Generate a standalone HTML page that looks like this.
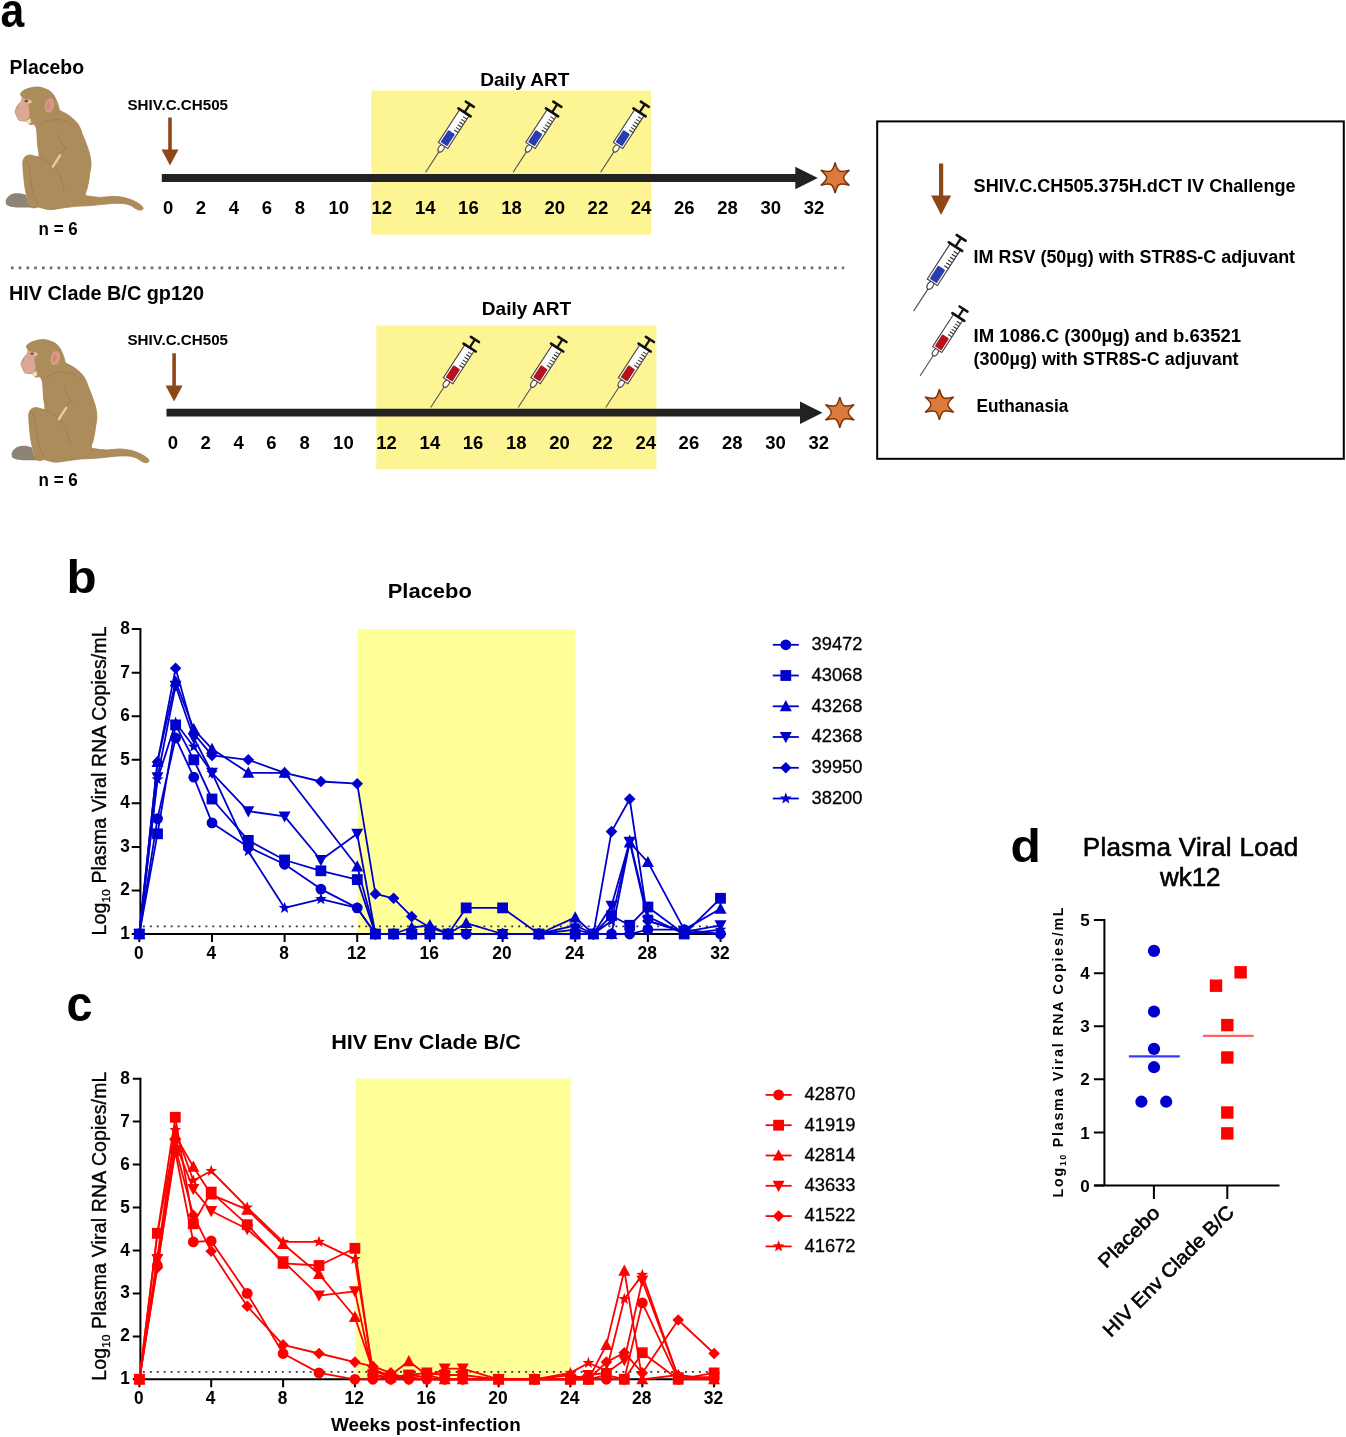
<!DOCTYPE html>
<html lang="en">
<head>
<meta charset="utf-8">
<title>Study design and plasma viral load</title>
<style>
html,body{margin:0;padding:0;background:#fff;}
body{width:1346px;height:1437px;overflow:hidden;}
svg{display:block;font-family:'Liberation Sans', sans-serif;}
</style>
</head>
<body>
<svg width="1346" height="1437" viewBox="0 0 1346 1437">
<rect width="1346" height="1437" fill="#fff"/>
<text transform="translate(0.6 26.8) scale(0.87 1)" font-size="49" font-weight="700">a</text>
<text x="9.6" y="74.0" font-size="20" font-weight="700" fill="#000" textLength="74.5" lengthAdjust="spacingAndGlyphs">Placebo</text>
<text x="9.0" y="300.2" font-size="20" font-weight="700" fill="#000" textLength="195.0" lengthAdjust="spacingAndGlyphs">HIV Clade B/C gp120</text>
<line x1="10.9" y1="267.9" x2="844.2" y2="267.9" stroke="#707070" stroke-width="2.7" stroke-dasharray="2.7 5.065"/>
<rect x="371.3" y="90.6" width="279.7" height="144.1" fill="#fdf493"/>
<text x="480.2" y="85.9" font-size="19" font-weight="700" fill="#000" textLength="89.3" lengthAdjust="spacingAndGlyphs">Daily ART</text>
<g transform="translate(0.0 0.0)">
<path d="M5.6 201.3C6 198 10 194 14.5 193.3C19 192.8 23 193.5 26 194.8L28 203.5L36.8 207.6L18.9 207.6C13 207.6 8 206.5 6.2 204.6z" fill="#8f8276"/>
<path d="M20.4 94.4C21 92.5 21.6 91.8 22.3 91.4C24.5 89.8 27 88.8 29.7 88.1C32 87.4 34.5 87 37.1 87C39.8 87 42.3 87.6 44.6 88.5C47.2 89.4 49.5 90.6 51.3 92.2C53.2 94 54.7 96.3 55.7 98.9C56.7 100.8 57.5 102.8 58 104.8C58.5 106.6 59 108.3 59.4 110C60.5 110.9 61.8 111.6 63.2 112.2C65.8 113.4 68.3 114.9 70.6 116.7C73.5 118.9 76 121.3 78 124.1C80 127.2 81.4 130.7 82.5 134.5C84.2 138.2 85.6 141.9 86.9 145.7C88.2 149 89.2 152.2 89.9 155.3C90.6 158.3 90.9 161.2 91 164C91 167.3 90.5 170.4 89.7 173.4C89.4 177.2 88.8 180.9 88 184.6C87.4 187.8 86.5 190.8 85.3 193.5L85.8 195.7C90.7 196.6 95.5 197.2 100.3 197.4C104.8 197.2 109.3 196.6 113.7 196.3C117.8 196.5 121.9 197 125.9 198C129.5 198.9 132.9 200.2 136 201.9C138.4 203.1 140.4 204.6 142.1 206.3C142.8 207 143.1 207.8 143.2 208.5C142.6 209.6 141.6 210.2 140.4 210.2C139 210.1 137.7 209.7 136.5 209.1C134.8 208.2 133.2 207.1 131.5 205.8C128.7 204.5 125.7 203.8 122.6 203.5C118.9 203.2 115.1 203.2 111.4 203.5L100.3 204.6C95.8 205.2 91.4 205.6 86.9 205.8L75.8 206.3C71.3 206.8 66.9 207.4 62.4 208C58.3 208.8 54.3 209.4 50.2 209.7C47.9 209.6 45.7 209.2 43.5 208.5L37.9 206.9C36.4 207.5 34.9 207.9 33.4 208C31.8 207.6 30.3 206.9 29 205.8C27.9 202.5 27.2 199.1 26.7 195.7C25.8 192 25 188.3 24.5 184.6L23.4 173.4C23 169.7 22.8 166 22.8 162.3C23 160 23.8 158.1 25.1 156.7C26.6 155.6 28.3 155 30.1 155C32.4 155.3 34.6 155.9 36.8 156.7L39.2 157.2C39 153.8 38.5 150.5 37.9 147.2C37.5 143.5 37.2 139.7 37.1 136C37 133.5 36.8 131 36.4 128.6C35.8 126.9 35.1 125.4 34.2 124.1L29.7 124.5L26 121.1L19.3 120.4C18.3 119.3 17.6 118.1 17.1 116.7C16.2 115 15.6 113.3 15.2 111.5C15.6 109.6 16.2 107.9 17.1 106.3C18.4 104.4 19.9 102.7 21.5 101.1C21.9 99.9 22.2 98.6 22.3 97.4z" fill="#ac8c5a" stroke="#a58350" stroke-width="0.8" stroke-linejoin="round"/>
<path d="M22.3 97.6L24.5 98.8L29.7 100C31.2 100.6 32 101.4 32 101.9C30.2 102.9 28.9 104.2 28.2 105.6C28.6 108.3 29.2 111 29.7 113.7C29.6 115.2 29.4 116.4 29 117.4C28.1 119 27 120.2 26 121.1L19.3 120.4C18.3 119.3 17.6 118.1 17.1 116.7C16.2 115 15.6 113.3 15.2 111.5C15.6 109.6 16.2 107.9 17.1 106.3C18.4 104.4 19.9 102.7 21.5 101.1z" fill="#dba796"/>
<path d="M27.6 99.4C29.4 99.6 31.2 100.6 32.2 102C31 102.9 29.6 103.1 28.4 102.6z" fill="#e6cdb4" opacity="0.8"/>
<ellipse cx="26.3" cy="101" rx="1.9" ry="1.2" fill="#7a4a3a"/>
<ellipse cx="17.6" cy="107.6" rx="1.1" ry="0.8" fill="#c98a7c"/>
<path d="M26 120.9L30.5 118.2L31.3 122.6L28.3 124.5z" fill="#ebe0b8"/>
<ellipse cx="49.4" cy="105.5" rx="4.7" ry="7.3" transform="rotate(12 49.4 105.5)" fill="#d99a88"/>
<ellipse cx="48.8" cy="105.8" rx="2" ry="4" transform="rotate(12 48.8 105.8)" fill="#cf8a78"/>
<path d="M40 126C43 122 50 119.5 57 119.5C63 119.5 68 121.5 72 125M58.5 134C60 140 62 145 66 148.5M66 148.5C63 150 60.5 152 59 155M36.8 156.7C43 158 49 161.5 53 166.5C57 170 60.5 176 62.5 183C63.5 186 64 188.5 64 191M26 160C29 165 30.5 172 31 180C31.5 190 34 198 38 204" fill="none" stroke="#9a7a48" stroke-width="1" stroke-linecap="round" opacity="0.75"/>
<path d="M60.2 155.2L52.9 166.7" stroke="#ddd0a5" stroke-width="2.4" stroke-linecap="round"/>
</g>
<text x="38.6" y="234.5" font-size="18" font-weight="700" fill="#000" textLength="39.2" lengthAdjust="spacingAndGlyphs">n = 6</text>
<text x="127.5" y="110.4" font-size="15" font-weight="700" fill="#000" textLength="100.5" lengthAdjust="spacingAndGlyphs">SHIV.C.CH505</text>
<path d="M168.2 117.5h3.6V149.5h6.7L170.0 165.5L161.5 149.5h6.7z" fill="#8e4716"/>
<path d="M161.8 174.1H795.3V166.8L817.8 178.0L795.3 189.2V181.9H161.8z" fill="#222"/>
<path d="M835.1 162.4Q837.0 169.8 839.4 170.9Q841.5 172.2 849.4 170.1Q843.4 175.3 843.6 177.7Q843.4 180.1 849.4 185.4Q841.5 183.2 839.4 184.5Q837.0 185.6 835.1 193.0Q833.2 185.6 830.8 184.5Q828.7 183.2 820.8 185.4Q826.8 180.1 826.6 177.7Q826.8 175.3 820.8 170.1Q828.7 172.2 830.8 170.9Q833.2 169.8 835.1 162.4z" fill="#dc7b3c" stroke="#7d3208" stroke-width="1.5" stroke-linejoin="miter"/>
<text x="168.2" y="214.1" font-size="18.5" font-weight="700" fill="#000" text-anchor="middle">0</text>
<text x="200.9" y="214.1" font-size="18.5" font-weight="700" fill="#000" text-anchor="middle">2</text>
<text x="234.0" y="214.1" font-size="18.5" font-weight="700" fill="#000" text-anchor="middle">4</text>
<text x="266.8" y="214.1" font-size="18.5" font-weight="700" fill="#000" text-anchor="middle">6</text>
<text x="299.9" y="214.1" font-size="18.5" font-weight="700" fill="#000" text-anchor="middle">8</text>
<text x="338.7" y="214.1" font-size="18.5" font-weight="700" fill="#000" text-anchor="middle">10</text>
<text x="381.8" y="214.1" font-size="18.5" font-weight="700" fill="#000" text-anchor="middle">12</text>
<text x="425.2" y="214.1" font-size="18.5" font-weight="700" fill="#000" text-anchor="middle">14</text>
<text x="468.4" y="214.1" font-size="18.5" font-weight="700" fill="#000" text-anchor="middle">16</text>
<text x="511.6" y="214.1" font-size="18.5" font-weight="700" fill="#000" text-anchor="middle">18</text>
<text x="554.8" y="214.1" font-size="18.5" font-weight="700" fill="#000" text-anchor="middle">20</text>
<text x="597.9" y="214.1" font-size="18.5" font-weight="700" fill="#000" text-anchor="middle">22</text>
<text x="641.0" y="214.1" font-size="18.5" font-weight="700" fill="#000" text-anchor="middle">24</text>
<text x="684.2" y="214.1" font-size="18.5" font-weight="700" fill="#000" text-anchor="middle">26</text>
<text x="727.5" y="214.1" font-size="18.5" font-weight="700" fill="#000" text-anchor="middle">28</text>
<text x="770.8" y="214.1" font-size="18.5" font-weight="700" fill="#000" text-anchor="middle">30</text>
<text x="814.0" y="214.1" font-size="18.5" font-weight="700" fill="#000" text-anchor="middle">32</text>
<g transform="translate(425.6 172.3) rotate(33.0) scale(1.0)">
<line x1="0" y1="0" x2="0" y2="-25" stroke="#555" stroke-width="1.1"/>
<ellipse cx="0" cy="-28.5" rx="2.6" ry="4" fill="#fff" stroke="#444" stroke-width="1.1"/>
<rect x="-5.6" y="-71" width="11.2" height="39" fill="#fff" stroke="#444" stroke-width="1.1"/>
<rect x="-4" y="-48" width="8" height="14.5" rx="1" fill="#2b3bb0"/>
<path d="M1 -51.0H5.6M1 -54.2H5.6M1 -57.4H5.6M1 -60.6H5.6M1 -63.8H5.6M1 -67.0H5.6" stroke="#333" stroke-width="1.1" fill="none"/>
<line x1="-7.3" y1="-71.5" x2="7.3" y2="-71.5" stroke="#111" stroke-width="2.6" stroke-linecap="round"/>
<line x1="0" y1="-71.5" x2="0" y2="-81" stroke="#111" stroke-width="2.2"/>
<line x1="-4.8" y1="-81.2" x2="4.8" y2="-81.2" stroke="#111" stroke-width="2.6" stroke-linecap="round"/>
</g>
<g transform="translate(513.1 172.3) rotate(33.0) scale(1.0)">
<line x1="0" y1="0" x2="0" y2="-25" stroke="#555" stroke-width="1.1"/>
<ellipse cx="0" cy="-28.5" rx="2.6" ry="4" fill="#fff" stroke="#444" stroke-width="1.1"/>
<rect x="-5.6" y="-71" width="11.2" height="39" fill="#fff" stroke="#444" stroke-width="1.1"/>
<rect x="-4" y="-48" width="8" height="14.5" rx="1" fill="#2b3bb0"/>
<path d="M1 -51.0H5.6M1 -54.2H5.6M1 -57.4H5.6M1 -60.6H5.6M1 -63.8H5.6M1 -67.0H5.6" stroke="#333" stroke-width="1.1" fill="none"/>
<line x1="-7.3" y1="-71.5" x2="7.3" y2="-71.5" stroke="#111" stroke-width="2.6" stroke-linecap="round"/>
<line x1="0" y1="-71.5" x2="0" y2="-81" stroke="#111" stroke-width="2.2"/>
<line x1="-4.8" y1="-81.2" x2="4.8" y2="-81.2" stroke="#111" stroke-width="2.6" stroke-linecap="round"/>
</g>
<g transform="translate(600.6 172.3) rotate(33.0) scale(1.0)">
<line x1="0" y1="0" x2="0" y2="-25" stroke="#555" stroke-width="1.1"/>
<ellipse cx="0" cy="-28.5" rx="2.6" ry="4" fill="#fff" stroke="#444" stroke-width="1.1"/>
<rect x="-5.6" y="-71" width="11.2" height="39" fill="#fff" stroke="#444" stroke-width="1.1"/>
<rect x="-4" y="-48" width="8" height="14.5" rx="1" fill="#2b3bb0"/>
<path d="M1 -51.0H5.6M1 -54.2H5.6M1 -57.4H5.6M1 -60.6H5.6M1 -63.8H5.6M1 -67.0H5.6" stroke="#333" stroke-width="1.1" fill="none"/>
<line x1="-7.3" y1="-71.5" x2="7.3" y2="-71.5" stroke="#111" stroke-width="2.6" stroke-linecap="round"/>
<line x1="0" y1="-71.5" x2="0" y2="-81" stroke="#111" stroke-width="2.2"/>
<line x1="-4.8" y1="-81.2" x2="4.8" y2="-81.2" stroke="#111" stroke-width="2.6" stroke-linecap="round"/>
</g>
<rect x="376.3" y="325.6" width="280.1" height="143.7" fill="#fdf493"/>
<text x="481.8" y="314.8" font-size="19" font-weight="700" fill="#000" textLength="89.3" lengthAdjust="spacingAndGlyphs">Daily ART</text>
<g transform="translate(5.9 252.6)">
<path d="M5.6 201.3C6 198 10 194 14.5 193.3C19 192.8 23 193.5 26 194.8L28 203.5L36.8 207.6L18.9 207.6C13 207.6 8 206.5 6.2 204.6z" fill="#8f8276"/>
<path d="M20.4 94.4C21 92.5 21.6 91.8 22.3 91.4C24.5 89.8 27 88.8 29.7 88.1C32 87.4 34.5 87 37.1 87C39.8 87 42.3 87.6 44.6 88.5C47.2 89.4 49.5 90.6 51.3 92.2C53.2 94 54.7 96.3 55.7 98.9C56.7 100.8 57.5 102.8 58 104.8C58.5 106.6 59 108.3 59.4 110C60.5 110.9 61.8 111.6 63.2 112.2C65.8 113.4 68.3 114.9 70.6 116.7C73.5 118.9 76 121.3 78 124.1C80 127.2 81.4 130.7 82.5 134.5C84.2 138.2 85.6 141.9 86.9 145.7C88.2 149 89.2 152.2 89.9 155.3C90.6 158.3 90.9 161.2 91 164C91 167.3 90.5 170.4 89.7 173.4C89.4 177.2 88.8 180.9 88 184.6C87.4 187.8 86.5 190.8 85.3 193.5L85.8 195.7C90.7 196.6 95.5 197.2 100.3 197.4C104.8 197.2 109.3 196.6 113.7 196.3C117.8 196.5 121.9 197 125.9 198C129.5 198.9 132.9 200.2 136 201.9C138.4 203.1 140.4 204.6 142.1 206.3C142.8 207 143.1 207.8 143.2 208.5C142.6 209.6 141.6 210.2 140.4 210.2C139 210.1 137.7 209.7 136.5 209.1C134.8 208.2 133.2 207.1 131.5 205.8C128.7 204.5 125.7 203.8 122.6 203.5C118.9 203.2 115.1 203.2 111.4 203.5L100.3 204.6C95.8 205.2 91.4 205.6 86.9 205.8L75.8 206.3C71.3 206.8 66.9 207.4 62.4 208C58.3 208.8 54.3 209.4 50.2 209.7C47.9 209.6 45.7 209.2 43.5 208.5L37.9 206.9C36.4 207.5 34.9 207.9 33.4 208C31.8 207.6 30.3 206.9 29 205.8C27.9 202.5 27.2 199.1 26.7 195.7C25.8 192 25 188.3 24.5 184.6L23.4 173.4C23 169.7 22.8 166 22.8 162.3C23 160 23.8 158.1 25.1 156.7C26.6 155.6 28.3 155 30.1 155C32.4 155.3 34.6 155.9 36.8 156.7L39.2 157.2C39 153.8 38.5 150.5 37.9 147.2C37.5 143.5 37.2 139.7 37.1 136C37 133.5 36.8 131 36.4 128.6C35.8 126.9 35.1 125.4 34.2 124.1L29.7 124.5L26 121.1L19.3 120.4C18.3 119.3 17.6 118.1 17.1 116.7C16.2 115 15.6 113.3 15.2 111.5C15.6 109.6 16.2 107.9 17.1 106.3C18.4 104.4 19.9 102.7 21.5 101.1C21.9 99.9 22.2 98.6 22.3 97.4z" fill="#ac8c5a" stroke="#a58350" stroke-width="0.8" stroke-linejoin="round"/>
<path d="M22.3 97.6L24.5 98.8L29.7 100C31.2 100.6 32 101.4 32 101.9C30.2 102.9 28.9 104.2 28.2 105.6C28.6 108.3 29.2 111 29.7 113.7C29.6 115.2 29.4 116.4 29 117.4C28.1 119 27 120.2 26 121.1L19.3 120.4C18.3 119.3 17.6 118.1 17.1 116.7C16.2 115 15.6 113.3 15.2 111.5C15.6 109.6 16.2 107.9 17.1 106.3C18.4 104.4 19.9 102.7 21.5 101.1z" fill="#dba796"/>
<path d="M27.6 99.4C29.4 99.6 31.2 100.6 32.2 102C31 102.9 29.6 103.1 28.4 102.6z" fill="#e6cdb4" opacity="0.8"/>
<ellipse cx="26.3" cy="101" rx="1.9" ry="1.2" fill="#7a4a3a"/>
<ellipse cx="17.6" cy="107.6" rx="1.1" ry="0.8" fill="#c98a7c"/>
<path d="M26 120.9L30.5 118.2L31.3 122.6L28.3 124.5z" fill="#ebe0b8"/>
<ellipse cx="49.4" cy="105.5" rx="4.7" ry="7.3" transform="rotate(12 49.4 105.5)" fill="#d99a88"/>
<ellipse cx="48.8" cy="105.8" rx="2" ry="4" transform="rotate(12 48.8 105.8)" fill="#cf8a78"/>
<path d="M40 126C43 122 50 119.5 57 119.5C63 119.5 68 121.5 72 125M58.5 134C60 140 62 145 66 148.5M66 148.5C63 150 60.5 152 59 155M36.8 156.7C43 158 49 161.5 53 166.5C57 170 60.5 176 62.5 183C63.5 186 64 188.5 64 191M26 160C29 165 30.5 172 31 180C31.5 190 34 198 38 204" fill="none" stroke="#9a7a48" stroke-width="1" stroke-linecap="round" opacity="0.75"/>
<path d="M60.2 155.2L52.9 166.7" stroke="#ddd0a5" stroke-width="2.4" stroke-linecap="round"/>
</g>
<text x="38.6" y="485.7" font-size="18" font-weight="700" fill="#000" textLength="39.2" lengthAdjust="spacingAndGlyphs">n = 6</text>
<text x="127.5" y="344.5" font-size="15" font-weight="700" fill="#000" textLength="100.5" lengthAdjust="spacingAndGlyphs">SHIV.C.CH505</text>
<path d="M172.3 353.2h3.6V385.5h6.7L174.1 401.5L165.6 385.5h6.7z" fill="#8e4716"/>
<path d="M166.5 408.8H800.0V401.5L822.5 412.7L800.0 423.9V416.6H166.5z" fill="#222"/>
<path d="M839.8 397.1Q841.7 404.5 844.1 405.6Q846.2 406.9 854.1 404.8Q848.1 410.0 848.3 412.4Q848.1 414.8 854.1 420.1Q846.2 417.9 844.1 419.2Q841.7 420.3 839.8 427.7Q837.9 420.3 835.5 419.2Q833.4 417.9 825.5 420.1Q831.5 414.8 831.3 412.4Q831.5 410.0 825.5 404.8Q833.4 406.9 835.5 405.6Q837.9 404.5 839.8 397.1z" fill="#dc7b3c" stroke="#7d3208" stroke-width="1.5" stroke-linejoin="miter"/>
<text x="172.9" y="448.8" font-size="18.5" font-weight="700" fill="#000" text-anchor="middle">0</text>
<text x="205.6" y="448.8" font-size="18.5" font-weight="700" fill="#000" text-anchor="middle">2</text>
<text x="238.7" y="448.8" font-size="18.5" font-weight="700" fill="#000" text-anchor="middle">4</text>
<text x="271.5" y="448.8" font-size="18.5" font-weight="700" fill="#000" text-anchor="middle">6</text>
<text x="304.6" y="448.8" font-size="18.5" font-weight="700" fill="#000" text-anchor="middle">8</text>
<text x="343.4" y="448.8" font-size="18.5" font-weight="700" fill="#000" text-anchor="middle">10</text>
<text x="386.5" y="448.8" font-size="18.5" font-weight="700" fill="#000" text-anchor="middle">12</text>
<text x="429.9" y="448.8" font-size="18.5" font-weight="700" fill="#000" text-anchor="middle">14</text>
<text x="473.1" y="448.8" font-size="18.5" font-weight="700" fill="#000" text-anchor="middle">16</text>
<text x="516.3" y="448.8" font-size="18.5" font-weight="700" fill="#000" text-anchor="middle">18</text>
<text x="559.5" y="448.8" font-size="18.5" font-weight="700" fill="#000" text-anchor="middle">20</text>
<text x="602.6" y="448.8" font-size="18.5" font-weight="700" fill="#000" text-anchor="middle">22</text>
<text x="645.7" y="448.8" font-size="18.5" font-weight="700" fill="#000" text-anchor="middle">24</text>
<text x="688.9" y="448.8" font-size="18.5" font-weight="700" fill="#000" text-anchor="middle">26</text>
<text x="732.2" y="448.8" font-size="18.5" font-weight="700" fill="#000" text-anchor="middle">28</text>
<text x="775.5" y="448.8" font-size="18.5" font-weight="700" fill="#000" text-anchor="middle">30</text>
<text x="818.7" y="448.8" font-size="18.5" font-weight="700" fill="#000" text-anchor="middle">32</text>
<g transform="translate(430.7 407.5) rotate(33.0) scale(1.0)">
<line x1="0" y1="0" x2="0" y2="-25" stroke="#555" stroke-width="1.1"/>
<ellipse cx="0" cy="-28.5" rx="2.6" ry="4" fill="#fff" stroke="#444" stroke-width="1.1"/>
<rect x="-5.6" y="-71" width="11.2" height="39" fill="#fff" stroke="#444" stroke-width="1.1"/>
<rect x="-4" y="-48" width="8" height="14.5" rx="1" fill="#b5121b"/>
<path d="M1 -51.0H5.6M1 -54.2H5.6M1 -57.4H5.6M1 -60.6H5.6M1 -63.8H5.6M1 -67.0H5.6" stroke="#333" stroke-width="1.1" fill="none"/>
<line x1="-7.3" y1="-71.5" x2="7.3" y2="-71.5" stroke="#111" stroke-width="2.6" stroke-linecap="round"/>
<line x1="0" y1="-71.5" x2="0" y2="-81" stroke="#111" stroke-width="2.2"/>
<line x1="-4.8" y1="-81.2" x2="4.8" y2="-81.2" stroke="#111" stroke-width="2.6" stroke-linecap="round"/>
</g>
<g transform="translate(518.2 407.5) rotate(33.0) scale(1.0)">
<line x1="0" y1="0" x2="0" y2="-25" stroke="#555" stroke-width="1.1"/>
<ellipse cx="0" cy="-28.5" rx="2.6" ry="4" fill="#fff" stroke="#444" stroke-width="1.1"/>
<rect x="-5.6" y="-71" width="11.2" height="39" fill="#fff" stroke="#444" stroke-width="1.1"/>
<rect x="-4" y="-48" width="8" height="14.5" rx="1" fill="#b5121b"/>
<path d="M1 -51.0H5.6M1 -54.2H5.6M1 -57.4H5.6M1 -60.6H5.6M1 -63.8H5.6M1 -67.0H5.6" stroke="#333" stroke-width="1.1" fill="none"/>
<line x1="-7.3" y1="-71.5" x2="7.3" y2="-71.5" stroke="#111" stroke-width="2.6" stroke-linecap="round"/>
<line x1="0" y1="-71.5" x2="0" y2="-81" stroke="#111" stroke-width="2.2"/>
<line x1="-4.8" y1="-81.2" x2="4.8" y2="-81.2" stroke="#111" stroke-width="2.6" stroke-linecap="round"/>
</g>
<g transform="translate(605.7 407.5) rotate(33.0) scale(1.0)">
<line x1="0" y1="0" x2="0" y2="-25" stroke="#555" stroke-width="1.1"/>
<ellipse cx="0" cy="-28.5" rx="2.6" ry="4" fill="#fff" stroke="#444" stroke-width="1.1"/>
<rect x="-5.6" y="-71" width="11.2" height="39" fill="#fff" stroke="#444" stroke-width="1.1"/>
<rect x="-4" y="-48" width="8" height="14.5" rx="1" fill="#b5121b"/>
<path d="M1 -51.0H5.6M1 -54.2H5.6M1 -57.4H5.6M1 -60.6H5.6M1 -63.8H5.6M1 -67.0H5.6" stroke="#333" stroke-width="1.1" fill="none"/>
<line x1="-7.3" y1="-71.5" x2="7.3" y2="-71.5" stroke="#111" stroke-width="2.6" stroke-linecap="round"/>
<line x1="0" y1="-71.5" x2="0" y2="-81" stroke="#111" stroke-width="2.2"/>
<line x1="-4.8" y1="-81.2" x2="4.8" y2="-81.2" stroke="#111" stroke-width="2.6" stroke-linecap="round"/>
</g>
<rect x="877.2" y="121.4" width="466.6" height="337.4" fill="#fff" stroke="#000" stroke-width="2"/>
<path d="M939.0 163.6h4.2V195.5h7.9L941.1 215.0L931.1 195.5h7.9z" fill="#8e4716"/>
<text x="973.6" y="192.4" font-size="18" font-weight="700" fill="#000" textLength="322.0" lengthAdjust="spacingAndGlyphs">SHIV.C.CH505.375H.dCT IV Challenge</text>
<g transform="translate(913.6 311.1) rotate(33.0) scale(1.075)">
<line x1="0" y1="0" x2="0" y2="-25" stroke="#555" stroke-width="1.1"/>
<ellipse cx="0" cy="-28.5" rx="2.6" ry="4" fill="#fff" stroke="#444" stroke-width="1.1"/>
<rect x="-5.6" y="-71" width="11.2" height="39" fill="#fff" stroke="#444" stroke-width="1.1"/>
<rect x="-4" y="-48" width="8" height="14.5" rx="1" fill="#2b3bb0"/>
<path d="M1 -51.0H5.6M1 -54.2H5.6M1 -57.4H5.6M1 -60.6H5.6M1 -63.8H5.6M1 -67.0H5.6" stroke="#333" stroke-width="1.1" fill="none"/>
<line x1="-7.3" y1="-71.5" x2="7.3" y2="-71.5" stroke="#111" stroke-width="2.6" stroke-linecap="round"/>
<line x1="0" y1="-71.5" x2="0" y2="-81" stroke="#111" stroke-width="2.2"/>
<line x1="-4.8" y1="-81.2" x2="4.8" y2="-81.2" stroke="#111" stroke-width="2.6" stroke-linecap="round"/>
</g>
<text x="973.6" y="262.7" font-size="18" font-weight="700" fill="#000" textLength="321.5" lengthAdjust="spacingAndGlyphs">IM RSV (50µg) with STR8S-C adjuvant</text>
<g transform="translate(920.1 375.9) rotate(33.0) scale(0.982)">
<line x1="0" y1="0" x2="0" y2="-25" stroke="#555" stroke-width="1.1"/>
<ellipse cx="0" cy="-28.5" rx="2.6" ry="4" fill="#fff" stroke="#444" stroke-width="1.1"/>
<rect x="-5.6" y="-71" width="11.2" height="39" fill="#fff" stroke="#444" stroke-width="1.1"/>
<rect x="-4" y="-48" width="8" height="14.5" rx="1" fill="#b5121b"/>
<path d="M1 -51.0H5.6M1 -54.2H5.6M1 -57.4H5.6M1 -60.6H5.6M1 -63.8H5.6M1 -67.0H5.6" stroke="#333" stroke-width="1.1" fill="none"/>
<line x1="-7.3" y1="-71.5" x2="7.3" y2="-71.5" stroke="#111" stroke-width="2.6" stroke-linecap="round"/>
<line x1="0" y1="-71.5" x2="0" y2="-81" stroke="#111" stroke-width="2.2"/>
<line x1="-4.8" y1="-81.2" x2="4.8" y2="-81.2" stroke="#111" stroke-width="2.6" stroke-linecap="round"/>
</g>
<text x="973.6" y="342.4" font-size="18" font-weight="700" fill="#000" textLength="267.5" lengthAdjust="spacingAndGlyphs">IM 1086.C (300µg) and b.63521</text>
<text x="973.6" y="364.5" font-size="18" font-weight="700" fill="#000" textLength="265.0" lengthAdjust="spacingAndGlyphs">(300µg) with STR8S-C adjuvant</text>
<path d="M939.4 389.3Q941.3 396.7 943.7 397.8Q945.8 399.1 953.7 397.0Q947.7 402.2 947.9 404.6Q947.7 407.0 953.7 412.2Q945.8 410.1 943.7 411.4Q941.3 412.5 939.4 419.9Q937.5 412.5 935.1 411.4Q933.0 410.1 925.1 412.2Q931.1 407.0 930.9 404.6Q931.1 402.2 925.1 397.0Q933.0 399.1 935.1 397.8Q937.5 396.7 939.4 389.3z" fill="#dc7b3c" stroke="#7d3208" stroke-width="1.5" stroke-linejoin="miter"/>
<text x="976.4" y="411.8" font-size="18" font-weight="700" fill="#000" textLength="92.0" lengthAdjust="spacingAndGlyphs">Euthanasia</text>
<rect x="357.5" y="629.1" width="217.9" height="304.9" fill="#ffff99"/>
<line x1="142.9" y1="926.4" x2="720.5" y2="926.4" stroke="#333" stroke-width="1.7" stroke-dasharray="1.9 5.05"/>
<path d="M140.4 628.1V934.0M131.7 934.0H721.5" fill="none" stroke="#000" stroke-width="2"/>
<path d="M131.7 890.4H140.4M131.7 846.9H140.4M131.7 803.3H140.4M131.7 759.8H140.4M131.7 716.2H140.4M131.7 672.7H140.4M131.7 629.1H140.4M139.3 934.0V942.0M212.0 934.0V942.0M284.6 934.0V942.0M357.2 934.0V942.0M429.9 934.0V942.0M502.6 934.0V942.0M575.2 934.0V942.0M647.9 934.0V942.0M720.5 934.0V942.0" fill="none" stroke="#000" stroke-width="2"/>
<text x="129.8" y="939.0" font-size="18" font-weight="700" fill="#000" text-anchor="end" textLength="9.6" lengthAdjust="spacingAndGlyphs">1</text>
<text x="129.8" y="895.4" font-size="18" font-weight="700" fill="#000" text-anchor="end" textLength="9.6" lengthAdjust="spacingAndGlyphs">2</text>
<text x="129.8" y="851.9" font-size="18" font-weight="700" fill="#000" text-anchor="end" textLength="9.6" lengthAdjust="spacingAndGlyphs">3</text>
<text x="129.8" y="808.3" font-size="18" font-weight="700" fill="#000" text-anchor="end" textLength="9.6" lengthAdjust="spacingAndGlyphs">4</text>
<text x="129.8" y="764.8" font-size="18" font-weight="700" fill="#000" text-anchor="end" textLength="9.6" lengthAdjust="spacingAndGlyphs">5</text>
<text x="129.8" y="721.2" font-size="18" font-weight="700" fill="#000" text-anchor="end" textLength="9.6" lengthAdjust="spacingAndGlyphs">6</text>
<text x="129.8" y="677.7" font-size="18" font-weight="700" fill="#000" text-anchor="end" textLength="9.6" lengthAdjust="spacingAndGlyphs">7</text>
<text x="129.8" y="634.1" font-size="18" font-weight="700" fill="#000" text-anchor="end" textLength="9.6" lengthAdjust="spacingAndGlyphs">8</text>
<text x="138.7" y="959.0" font-size="18" font-weight="700" fill="#000" text-anchor="middle" textLength="9.6" lengthAdjust="spacingAndGlyphs">0</text>
<text x="211.4" y="959.0" font-size="18" font-weight="700" fill="#000" text-anchor="middle" textLength="9.6" lengthAdjust="spacingAndGlyphs">4</text>
<text x="284.0" y="959.0" font-size="18" font-weight="700" fill="#000" text-anchor="middle" textLength="9.6" lengthAdjust="spacingAndGlyphs">8</text>
<text x="356.6" y="959.0" font-size="18" font-weight="700" fill="#000" text-anchor="middle" textLength="19.4" lengthAdjust="spacingAndGlyphs">12</text>
<text x="429.3" y="959.0" font-size="18" font-weight="700" fill="#000" text-anchor="middle" textLength="19.4" lengthAdjust="spacingAndGlyphs">16</text>
<text x="501.9" y="959.0" font-size="18" font-weight="700" fill="#000" text-anchor="middle" textLength="19.4" lengthAdjust="spacingAndGlyphs">20</text>
<text x="574.6" y="959.0" font-size="18" font-weight="700" fill="#000" text-anchor="middle" textLength="19.4" lengthAdjust="spacingAndGlyphs">24</text>
<text x="647.3" y="959.0" font-size="18" font-weight="700" fill="#000" text-anchor="middle" textLength="19.4" lengthAdjust="spacingAndGlyphs">28</text>
<text x="719.9" y="959.0" font-size="18" font-weight="700" fill="#000" text-anchor="middle" textLength="19.4" lengthAdjust="spacingAndGlyphs">32</text>
<text x="387.7" y="597.5" font-size="20" font-weight="700" fill="#000" textLength="84.2" lengthAdjust="spacingAndGlyphs">Placebo</text>
<text transform="translate(105.8 935.4) rotate(-90)" font-size="19.4" font-weight="400" textLength="309" lengthAdjust="spacing" stroke="#000" stroke-width="0.35">Log<tspan font-size="11.5" dy="4.5">10</tspan><tspan dy="-4.5"> Plasma Viral RNA Copies/mL</tspan></text>
<path d="M139.3 934.0 L157.5 818.6 L175.6 738.0 L193.8 777.2 L212.0 822.9 L248.3 846.9 L284.6 864.3 L320.9 889.1 L357.2 907.9 L375.4 934.0 L393.6 934.0 L411.7 934.0 L429.9 934.0 L448.1 934.0 L466.2 934.0 L502.6 934.0 L538.9 934.0 L575.2 934.0 L593.4 934.0 L611.5 934.0 L629.7 934.0 L647.9 929.6 L684.2 929.6 L720.5 934.0" fill="none" stroke="#0000cc" stroke-width="1.8" stroke-linejoin="round"/>
<path d="M139.3 934.0 L157.5 833.8 L175.6 724.9 L193.8 759.8 L212.0 799.0 L248.3 840.4 L284.6 860.0 L320.9 870.8 L357.2 879.6 L375.4 934.0 L393.6 934.0 L411.7 934.0 L429.9 934.0 L448.1 934.0 L466.2 907.9 L502.6 907.9 L538.9 934.0 L575.2 934.0 L593.4 934.0 L611.5 915.7 L629.7 925.3 L647.9 907.0 L684.2 934.0 L720.5 898.3" fill="none" stroke="#0000cc" stroke-width="1.8" stroke-linejoin="round"/>
<path d="M139.3 934.0 L157.5 761.9 L175.6 681.4 L193.8 729.3 L212.0 748.9 L248.3 772.8 L284.6 772.8 L357.2 866.5 L375.4 934.0 L393.6 934.0 L411.7 927.5 L429.9 925.3 L448.1 934.0 L466.2 923.1 L502.6 934.0 L538.9 934.0 L575.2 917.4 L593.4 934.0 L611.5 934.0 L629.7 842.5 L647.9 862.1 L684.2 929.6 L720.5 908.7" fill="none" stroke="#0000cc" stroke-width="1.8" stroke-linejoin="round"/>
<path d="M139.3 934.0 L157.5 777.2 L175.6 685.7 L193.8 738.0 L212.0 772.8 L248.3 811.2 L284.6 816.4 L320.9 860.0 L357.2 833.8 L375.4 934.0 L393.6 934.0 L411.7 934.0 L429.9 934.0 L448.1 934.0 L466.2 934.0 L502.6 934.0 L538.9 934.0 L575.2 929.6 L593.4 934.0 L611.5 905.7 L629.7 841.7 L647.9 920.9 L684.2 931.8 L720.5 925.3" fill="none" stroke="#0000cc" stroke-width="1.8" stroke-linejoin="round"/>
<path d="M139.3 934.0 L157.5 761.9 L175.6 668.3 L193.8 733.6 L212.0 755.4 L248.3 759.8 L284.6 772.8 L320.9 781.5 L357.2 783.7 L375.4 893.9 L393.6 898.3 L411.7 916.6 L429.9 927.5 L448.1 934.0 L466.2 934.0 L502.6 934.0 L538.9 934.0 L575.2 934.0 L593.4 934.0 L611.5 831.6 L629.7 799.0 L647.9 920.9 L684.2 931.8 L720.5 934.0" fill="none" stroke="#0000cc" stroke-width="1.8" stroke-linejoin="round"/>
<path d="M139.3 934.0 L157.5 779.4 L175.6 722.7 L193.8 746.7 L212.0 772.8 L248.3 851.2 L284.6 907.9 L320.9 899.2 L357.2 907.9 L375.4 934.0 L393.6 934.0 L411.7 934.0 L429.9 934.0 L448.1 934.0 L466.2 934.0 L502.6 934.0 L538.9 934.0 L575.2 925.3 L593.4 934.0 L611.5 920.9 L629.7 840.4 L647.9 916.6 L684.2 934.0 L720.5 929.6" fill="none" stroke="#0000cc" stroke-width="1.8" stroke-linejoin="round"/>
<circle cx="139.3" cy="934.0" r="5.4" fill="#0000cc"/><circle cx="157.5" cy="818.6" r="5.4" fill="#0000cc"/><circle cx="175.6" cy="738.0" r="5.4" fill="#0000cc"/><circle cx="193.8" cy="777.2" r="5.4" fill="#0000cc"/><circle cx="212.0" cy="822.9" r="5.4" fill="#0000cc"/><circle cx="248.3" cy="846.9" r="5.4" fill="#0000cc"/><circle cx="284.6" cy="864.3" r="5.4" fill="#0000cc"/><circle cx="320.9" cy="889.1" r="5.4" fill="#0000cc"/><circle cx="357.2" cy="907.9" r="5.4" fill="#0000cc"/><circle cx="375.4" cy="934.0" r="5.4" fill="#0000cc"/><circle cx="393.6" cy="934.0" r="5.4" fill="#0000cc"/><circle cx="411.7" cy="934.0" r="5.4" fill="#0000cc"/><circle cx="429.9" cy="934.0" r="5.4" fill="#0000cc"/><circle cx="448.1" cy="934.0" r="5.4" fill="#0000cc"/><circle cx="466.2" cy="934.0" r="5.4" fill="#0000cc"/><circle cx="502.6" cy="934.0" r="5.4" fill="#0000cc"/><circle cx="538.9" cy="934.0" r="5.4" fill="#0000cc"/><circle cx="575.2" cy="934.0" r="5.4" fill="#0000cc"/><circle cx="593.4" cy="934.0" r="5.4" fill="#0000cc"/><circle cx="611.5" cy="934.0" r="5.4" fill="#0000cc"/><circle cx="629.7" cy="934.0" r="5.4" fill="#0000cc"/><circle cx="647.9" cy="929.6" r="5.4" fill="#0000cc"/><circle cx="684.2" cy="929.6" r="5.4" fill="#0000cc"/><circle cx="720.5" cy="934.0" r="5.4" fill="#0000cc"/>
<rect x="133.9" y="928.6" width="10.8" height="10.8" fill="#0000cc"/><rect x="152.1" y="828.4" width="10.8" height="10.8" fill="#0000cc"/><rect x="170.2" y="719.5" width="10.8" height="10.8" fill="#0000cc"/><rect x="188.4" y="754.4" width="10.8" height="10.8" fill="#0000cc"/><rect x="206.6" y="793.6" width="10.8" height="10.8" fill="#0000cc"/><rect x="242.9" y="835.0" width="10.8" height="10.8" fill="#0000cc"/><rect x="279.2" y="854.6" width="10.8" height="10.8" fill="#0000cc"/><rect x="315.5" y="865.4" width="10.8" height="10.8" fill="#0000cc"/><rect x="351.9" y="874.2" width="10.8" height="10.8" fill="#0000cc"/><rect x="370.0" y="928.6" width="10.8" height="10.8" fill="#0000cc"/><rect x="388.2" y="928.6" width="10.8" height="10.8" fill="#0000cc"/><rect x="406.3" y="928.6" width="10.8" height="10.8" fill="#0000cc"/><rect x="424.5" y="928.6" width="10.8" height="10.8" fill="#0000cc"/><rect x="442.7" y="928.6" width="10.8" height="10.8" fill="#0000cc"/><rect x="460.8" y="902.5" width="10.8" height="10.8" fill="#0000cc"/><rect x="497.2" y="902.5" width="10.8" height="10.8" fill="#0000cc"/><rect x="533.5" y="928.6" width="10.8" height="10.8" fill="#0000cc"/><rect x="569.8" y="928.6" width="10.8" height="10.8" fill="#0000cc"/><rect x="588.0" y="928.6" width="10.8" height="10.8" fill="#0000cc"/><rect x="606.1" y="910.3" width="10.8" height="10.8" fill="#0000cc"/><rect x="624.3" y="919.9" width="10.8" height="10.8" fill="#0000cc"/><rect x="642.5" y="901.6" width="10.8" height="10.8" fill="#0000cc"/><rect x="678.8" y="928.6" width="10.8" height="10.8" fill="#0000cc"/><rect x="715.1" y="892.9" width="10.8" height="10.8" fill="#0000cc"/>
<path d="M139.3 927.8L145.3 939.0H133.3z" fill="#0000cc"/><path d="M157.5 755.7L163.5 766.9H151.5z" fill="#0000cc"/><path d="M175.6 675.2L181.6 686.4H169.6z" fill="#0000cc"/><path d="M193.8 723.1L199.8 734.3H187.8z" fill="#0000cc"/><path d="M212.0 742.7L218.0 753.9H206.0z" fill="#0000cc"/><path d="M248.3 766.6L254.3 777.8H242.3z" fill="#0000cc"/><path d="M284.6 766.6L290.6 777.8H278.6z" fill="#0000cc"/><path d="M357.2 860.3L363.2 871.5H351.2z" fill="#0000cc"/><path d="M375.4 927.8L381.4 939.0H369.4z" fill="#0000cc"/><path d="M393.6 927.8L399.6 939.0H387.6z" fill="#0000cc"/><path d="M411.7 921.3L417.7 932.5H405.7z" fill="#0000cc"/><path d="M429.9 919.1L435.9 930.3H423.9z" fill="#0000cc"/><path d="M448.1 927.8L454.1 939.0H442.1z" fill="#0000cc"/><path d="M466.2 916.9L472.2 928.1H460.2z" fill="#0000cc"/><path d="M502.6 927.8L508.6 939.0H496.6z" fill="#0000cc"/><path d="M538.9 927.8L544.9 939.0H532.9z" fill="#0000cc"/><path d="M575.2 911.2L581.2 922.4H569.2z" fill="#0000cc"/><path d="M593.4 927.8L599.4 939.0H587.4z" fill="#0000cc"/><path d="M611.5 927.8L617.5 939.0H605.5z" fill="#0000cc"/><path d="M629.7 836.3L635.7 847.5H623.7z" fill="#0000cc"/><path d="M647.9 855.9L653.9 867.1H641.9z" fill="#0000cc"/><path d="M684.2 923.4L690.2 934.6H678.2z" fill="#0000cc"/><path d="M720.5 902.5L726.5 913.7H714.5z" fill="#0000cc"/>
<path d="M139.3 940.2L145.3 929.0H133.3z" fill="#0000cc"/><path d="M157.5 783.4L163.5 772.2H151.5z" fill="#0000cc"/><path d="M175.6 691.9L181.6 680.7H169.6z" fill="#0000cc"/><path d="M193.8 744.2L199.8 733.0H187.8z" fill="#0000cc"/><path d="M212.0 779.0L218.0 767.8H206.0z" fill="#0000cc"/><path d="M248.3 817.4L254.3 806.2H242.3z" fill="#0000cc"/><path d="M284.6 822.6L290.6 811.4H278.6z" fill="#0000cc"/><path d="M320.9 866.2L326.9 855.0H314.9z" fill="#0000cc"/><path d="M357.2 840.0L363.2 828.8H351.2z" fill="#0000cc"/><path d="M375.4 940.2L381.4 929.0H369.4z" fill="#0000cc"/><path d="M393.6 940.2L399.6 929.0H387.6z" fill="#0000cc"/><path d="M411.7 940.2L417.7 929.0H405.7z" fill="#0000cc"/><path d="M429.9 940.2L435.9 929.0H423.9z" fill="#0000cc"/><path d="M448.1 940.2L454.1 929.0H442.1z" fill="#0000cc"/><path d="M466.2 940.2L472.2 929.0H460.2z" fill="#0000cc"/><path d="M502.6 940.2L508.6 929.0H496.6z" fill="#0000cc"/><path d="M538.9 940.2L544.9 929.0H532.9z" fill="#0000cc"/><path d="M575.2 935.8L581.2 924.6H569.2z" fill="#0000cc"/><path d="M593.4 940.2L599.4 929.0H587.4z" fill="#0000cc"/><path d="M611.5 911.9L617.5 900.7H605.5z" fill="#0000cc"/><path d="M629.7 847.9L635.7 836.7H623.7z" fill="#0000cc"/><path d="M647.9 927.1L653.9 915.9H641.9z" fill="#0000cc"/><path d="M684.2 938.0L690.2 926.8H678.2z" fill="#0000cc"/><path d="M720.5 931.5L726.5 920.3H714.5z" fill="#0000cc"/>
<path d="M139.3 928.2L145.1 934.0L139.3 939.8L133.5 934.0z" fill="#0000cc"/><path d="M157.5 756.1L163.3 761.9L157.5 767.7L151.7 761.9z" fill="#0000cc"/><path d="M175.6 662.5L181.4 668.3L175.6 674.1L169.8 668.3z" fill="#0000cc"/><path d="M193.8 727.8L199.6 733.6L193.8 739.4L188.0 733.6z" fill="#0000cc"/><path d="M212.0 749.6L217.8 755.4L212.0 761.2L206.2 755.4z" fill="#0000cc"/><path d="M248.3 754.0L254.1 759.8L248.3 765.6L242.5 759.8z" fill="#0000cc"/><path d="M284.6 767.0L290.4 772.8L284.6 778.6L278.8 772.8z" fill="#0000cc"/><path d="M320.9 775.8L326.7 781.5L320.9 787.3L315.1 781.5z" fill="#0000cc"/><path d="M357.2 777.9L363.1 783.7L357.2 789.5L351.4 783.7z" fill="#0000cc"/><path d="M375.4 888.1L381.2 893.9L375.4 899.7L369.6 893.9z" fill="#0000cc"/><path d="M393.6 892.5L399.4 898.3L393.6 904.1L387.8 898.3z" fill="#0000cc"/><path d="M411.7 910.8L417.5 916.6L411.7 922.4L405.9 916.6z" fill="#0000cc"/><path d="M429.9 921.7L435.7 927.5L429.9 933.3L424.1 927.5z" fill="#0000cc"/><path d="M448.1 928.2L453.9 934.0L448.1 939.8L442.3 934.0z" fill="#0000cc"/><path d="M466.2 928.2L472.0 934.0L466.2 939.8L460.4 934.0z" fill="#0000cc"/><path d="M502.6 928.2L508.4 934.0L502.6 939.8L496.8 934.0z" fill="#0000cc"/><path d="M538.9 928.2L544.7 934.0L538.9 939.8L533.1 934.0z" fill="#0000cc"/><path d="M575.2 928.2L581.0 934.0L575.2 939.8L569.4 934.0z" fill="#0000cc"/><path d="M593.4 928.2L599.2 934.0L593.4 939.8L587.6 934.0z" fill="#0000cc"/><path d="M611.5 825.8L617.3 831.6L611.5 837.4L605.7 831.6z" fill="#0000cc"/><path d="M629.7 793.2L635.5 799.0L629.7 804.8L623.9 799.0z" fill="#0000cc"/><path d="M647.9 915.1L653.7 920.9L647.9 926.7L642.1 920.9z" fill="#0000cc"/><path d="M684.2 926.0L690.0 931.8L684.2 937.6L678.4 931.8z" fill="#0000cc"/><path d="M720.5 928.2L726.3 934.0L720.5 939.8L714.7 934.0z" fill="#0000cc"/>
<polygon points="139.3,927.8 140.8,931.9 145.2,932.1 141.8,934.8 142.9,939.0 139.3,936.6 135.7,939.0 136.8,934.8 133.4,932.1 137.8,931.9" fill="#0000cc"/><polygon points="157.5,773.2 159.0,777.3 163.4,777.5 159.9,780.2 161.1,784.4 157.5,782.0 153.8,784.4 155.0,780.2 151.6,777.5 155.9,777.3" fill="#0000cc"/><polygon points="175.6,716.5 177.2,720.6 181.5,720.8 178.1,723.6 179.3,727.8 175.6,725.3 172.0,727.8 173.2,723.6 169.7,720.8 174.1,720.6" fill="#0000cc"/><polygon points="193.8,740.5 195.3,744.6 199.7,744.8 196.3,747.5 197.4,751.7 193.8,749.3 190.1,751.7 191.3,747.5 187.9,744.8 192.3,744.6" fill="#0000cc"/><polygon points="212.0,766.6 213.5,770.7 217.8,770.9 214.4,773.6 215.6,777.9 212.0,775.4 208.3,777.9 209.5,773.6 206.1,770.9 210.4,770.7" fill="#0000cc"/><polygon points="248.3,845.0 249.8,849.1 254.2,849.3 250.7,852.0 251.9,856.3 248.3,853.8 244.6,856.3 245.8,852.0 242.4,849.3 246.7,849.1" fill="#0000cc"/><polygon points="284.6,901.7 286.1,905.8 290.5,905.9 287.1,908.7 288.2,912.9 284.6,910.5 281.0,912.9 282.1,908.7 278.7,905.9 283.1,905.8" fill="#0000cc"/><polygon points="320.9,893.0 322.5,897.1 326.8,897.2 323.4,900.0 324.6,904.2 320.9,901.8 317.3,904.2 318.5,900.0 315.0,897.2 319.4,897.1" fill="#0000cc"/><polygon points="357.2,901.7 358.8,905.8 363.1,905.9 359.7,908.7 360.9,912.9 357.2,910.5 353.6,912.9 354.8,908.7 351.4,905.9 355.7,905.8" fill="#0000cc"/><polygon points="375.4,927.8 376.9,931.9 381.3,932.1 377.9,934.8 379.1,939.0 375.4,936.6 371.8,939.0 372.9,934.8 369.5,932.1 373.9,931.9" fill="#0000cc"/><polygon points="393.6,927.8 395.1,931.9 399.5,932.1 396.0,934.8 397.2,939.0 393.6,936.6 389.9,939.0 391.1,934.8 387.7,932.1 392.0,931.9" fill="#0000cc"/><polygon points="411.7,927.8 413.3,931.9 417.6,932.1 414.2,934.8 415.4,939.0 411.7,936.6 408.1,939.0 409.3,934.8 405.8,932.1 410.2,931.9" fill="#0000cc"/><polygon points="429.9,927.8 431.4,931.9 435.8,932.1 432.4,934.8 433.5,939.0 429.9,936.6 426.3,939.0 427.4,934.8 424.0,932.1 428.4,931.9" fill="#0000cc"/><polygon points="448.1,927.8 449.6,931.9 454.0,932.1 450.5,934.8 451.7,939.0 448.1,936.6 444.4,939.0 445.6,934.8 442.2,932.1 446.5,931.9" fill="#0000cc"/><polygon points="466.2,927.8 467.8,931.9 472.1,932.1 468.7,934.8 469.9,939.0 466.2,936.6 462.6,939.0 463.8,934.8 460.3,932.1 464.7,931.9" fill="#0000cc"/><polygon points="502.6,927.8 504.1,931.9 508.4,932.1 505.0,934.8 506.2,939.0 502.6,936.6 498.9,939.0 500.1,934.8 496.7,932.1 501.0,931.9" fill="#0000cc"/><polygon points="538.9,927.8 540.4,931.9 544.8,932.1 541.3,934.8 542.5,939.0 538.9,936.6 535.2,939.0 536.4,934.8 533.0,932.1 537.3,931.9" fill="#0000cc"/><polygon points="575.2,919.1 576.7,923.2 581.1,923.4 577.7,926.1 578.8,930.3 575.2,927.9 571.6,930.3 572.7,926.1 569.3,923.4 573.7,923.2" fill="#0000cc"/><polygon points="593.4,927.8 594.9,931.9 599.3,932.1 595.8,934.8 597.0,939.0 593.4,936.6 589.7,939.0 590.9,934.8 587.5,932.1 591.8,931.9" fill="#0000cc"/><polygon points="611.5,914.7 613.1,918.8 617.4,919.0 614.0,921.7 615.2,925.9 611.5,923.5 607.9,925.9 609.1,921.7 605.6,919.0 610.0,918.8" fill="#0000cc"/><polygon points="629.7,834.2 631.2,838.2 635.6,838.4 632.2,841.2 633.3,845.4 629.7,843.0 626.0,845.4 627.2,841.2 623.8,838.4 628.2,838.2" fill="#0000cc"/><polygon points="647.9,910.4 649.4,914.5 653.7,914.7 650.3,917.4 651.5,921.6 647.9,919.2 644.2,921.6 645.4,917.4 642.0,914.7 646.3,914.5" fill="#0000cc"/><polygon points="684.2,927.8 685.7,931.9 690.1,932.1 686.6,934.8 687.8,939.0 684.2,936.6 680.5,939.0 681.7,934.8 678.3,932.1 682.6,931.9" fill="#0000cc"/><polygon points="720.5,923.4 722.0,927.5 726.4,927.7 723.0,930.4 724.1,934.7 720.5,932.2 716.9,934.7 718.0,930.4 714.6,927.7 719.0,927.5" fill="#0000cc"/>
<line x1="772.8" y1="644.8" x2="798.8" y2="644.8" stroke="#0000cc" stroke-width="1.8"/>
<circle cx="785.8" cy="644.8" r="5.4" fill="#0000cc"/>
<text x="811.5" y="650.1" font-size="18.3" font-weight="400" fill="#000" textLength="51.0" lengthAdjust="spacingAndGlyphs" stroke="#000" stroke-width="0.3">39472</text>
<line x1="772.8" y1="675.5" x2="798.8" y2="675.5" stroke="#0000cc" stroke-width="1.8"/>
<rect x="780.4" y="670.1" width="10.8" height="10.8" fill="#0000cc"/>
<text x="811.5" y="680.8" font-size="18.3" font-weight="400" fill="#000" textLength="51.0" lengthAdjust="spacingAndGlyphs" stroke="#000" stroke-width="0.3">43068</text>
<line x1="772.8" y1="706.3" x2="798.8" y2="706.3" stroke="#0000cc" stroke-width="1.8"/>
<path d="M785.8 700.1L791.8 711.3H779.8z" fill="#0000cc"/>
<text x="811.5" y="711.6" font-size="18.3" font-weight="400" fill="#000" textLength="51.0" lengthAdjust="spacingAndGlyphs" stroke="#000" stroke-width="0.3">43268</text>
<line x1="772.8" y1="737.0" x2="798.8" y2="737.0" stroke="#0000cc" stroke-width="1.8"/>
<path d="M785.8 743.2L791.8 732.0H779.8z" fill="#0000cc"/>
<text x="811.5" y="742.3" font-size="18.3" font-weight="400" fill="#000" textLength="51.0" lengthAdjust="spacingAndGlyphs" stroke="#000" stroke-width="0.3">42368</text>
<line x1="772.8" y1="767.8" x2="798.8" y2="767.8" stroke="#0000cc" stroke-width="1.8"/>
<path d="M785.8 762.0L791.6 767.8L785.8 773.6L780.0 767.8z" fill="#0000cc"/>
<text x="811.5" y="773.1" font-size="18.3" font-weight="400" fill="#000" textLength="51.0" lengthAdjust="spacingAndGlyphs" stroke="#000" stroke-width="0.3">39950</text>
<line x1="772.8" y1="798.5" x2="798.8" y2="798.5" stroke="#0000cc" stroke-width="1.8"/>
<polygon points="785.8,792.3 787.3,796.4 791.7,796.6 788.3,799.4 789.4,803.6 785.8,801.1 782.2,803.6 783.3,799.4 779.9,796.6 784.3,796.4" fill="#0000cc"/>
<text x="811.5" y="803.8" font-size="18.3" font-weight="400" fill="#000" textLength="51.0" lengthAdjust="spacingAndGlyphs" stroke="#000" stroke-width="0.3">38200</text>
<text transform="translate(66.4 592.9) scale(1.05 1)" font-size="47" font-weight="700">b</text>
<rect x="355.6" y="1078.7" width="215.0" height="300.6" fill="#ffff99"/>
<line x1="142.9" y1="1371.8" x2="714.1" y2="1371.8" stroke="#333" stroke-width="1.7" stroke-dasharray="1.9 5.05"/>
<path d="M140.4 1077.7V1379.3M132.8 1379.3H715.1" fill="none" stroke="#000" stroke-width="2"/>
<path d="M132.8 1336.4H140.4M132.8 1293.4H140.4M132.8 1250.5H140.4M132.8 1207.5H140.4M132.8 1164.6H140.4M132.8 1121.6H140.4M132.8 1078.7H140.4M139.4 1379.3V1387.3M211.2 1379.3V1387.3M283.1 1379.3V1387.3M354.9 1379.3V1387.3M426.8 1379.3V1387.3M498.6 1379.3V1387.3M570.4 1379.3V1387.3M642.3 1379.3V1387.3M714.1 1379.3V1387.3" fill="none" stroke="#000" stroke-width="2"/>
<text x="129.8" y="1384.3" font-size="18" font-weight="700" fill="#000" text-anchor="end" textLength="9.6" lengthAdjust="spacingAndGlyphs">1</text>
<text x="129.8" y="1341.4" font-size="18" font-weight="700" fill="#000" text-anchor="end" textLength="9.6" lengthAdjust="spacingAndGlyphs">2</text>
<text x="129.8" y="1298.4" font-size="18" font-weight="700" fill="#000" text-anchor="end" textLength="9.6" lengthAdjust="spacingAndGlyphs">3</text>
<text x="129.8" y="1255.5" font-size="18" font-weight="700" fill="#000" text-anchor="end" textLength="9.6" lengthAdjust="spacingAndGlyphs">4</text>
<text x="129.8" y="1212.5" font-size="18" font-weight="700" fill="#000" text-anchor="end" textLength="9.6" lengthAdjust="spacingAndGlyphs">5</text>
<text x="129.8" y="1169.6" font-size="18" font-weight="700" fill="#000" text-anchor="end" textLength="9.6" lengthAdjust="spacingAndGlyphs">6</text>
<text x="129.8" y="1126.6" font-size="18" font-weight="700" fill="#000" text-anchor="end" textLength="9.6" lengthAdjust="spacingAndGlyphs">7</text>
<text x="129.8" y="1083.7" font-size="18" font-weight="700" fill="#000" text-anchor="end" textLength="9.6" lengthAdjust="spacingAndGlyphs">8</text>
<text x="138.8" y="1404.3" font-size="18" font-weight="700" fill="#000" text-anchor="middle" textLength="9.6" lengthAdjust="spacingAndGlyphs">0</text>
<text x="210.6" y="1404.3" font-size="18" font-weight="700" fill="#000" text-anchor="middle" textLength="9.6" lengthAdjust="spacingAndGlyphs">4</text>
<text x="282.5" y="1404.3" font-size="18" font-weight="700" fill="#000" text-anchor="middle" textLength="9.6" lengthAdjust="spacingAndGlyphs">8</text>
<text x="354.3" y="1404.3" font-size="18" font-weight="700" fill="#000" text-anchor="middle" textLength="19.4" lengthAdjust="spacingAndGlyphs">12</text>
<text x="426.2" y="1404.3" font-size="18" font-weight="700" fill="#000" text-anchor="middle" textLength="19.4" lengthAdjust="spacingAndGlyphs">16</text>
<text x="498.0" y="1404.3" font-size="18" font-weight="700" fill="#000" text-anchor="middle" textLength="19.4" lengthAdjust="spacingAndGlyphs">20</text>
<text x="569.8" y="1404.3" font-size="18" font-weight="700" fill="#000" text-anchor="middle" textLength="19.4" lengthAdjust="spacingAndGlyphs">24</text>
<text x="641.7" y="1404.3" font-size="18" font-weight="700" fill="#000" text-anchor="middle" textLength="19.4" lengthAdjust="spacingAndGlyphs">28</text>
<text x="713.5" y="1404.3" font-size="18" font-weight="700" fill="#000" text-anchor="middle" textLength="19.4" lengthAdjust="spacingAndGlyphs">32</text>
<text x="331.2" y="1049.3" font-size="20" font-weight="700" fill="#000" textLength="189.6" lengthAdjust="spacingAndGlyphs">HIV Env Clade B/C</text>
<text transform="translate(105.8 1380.7) rotate(-90)" font-size="19.4" font-weight="400" textLength="309" lengthAdjust="spacing" stroke="#000" stroke-width="0.35">Log<tspan font-size="11.5" dy="4.5">10</tspan><tspan dy="-4.5"> Plasma Viral RNA Copies/mL</tspan></text>
<text x="331.0" y="1431.3" font-size="19" font-weight="700" fill="#000" textLength="189.7" lengthAdjust="spacingAndGlyphs">Weeks post-infection</text>
<path d="M139.4 1379.3 L157.4 1265.5 L175.3 1151.7 L193.3 1241.9 L211.2 1241.0 L247.2 1293.4 L283.1 1353.5 L319.0 1372.9 L354.9 1379.3 L372.9 1379.3 L390.8 1379.3 L408.8 1379.3 L426.8 1379.3 L444.7 1379.3 L462.7 1379.3 L498.6 1379.3 L534.5 1379.3 L570.4 1379.3 L588.4 1379.3 L606.4 1379.3 L624.3 1379.3 L642.3 1302.9 L678.2 1379.3 L714.1 1379.3" fill="none" stroke="#ff0000" stroke-width="1.8" stroke-linejoin="round"/>
<path d="M139.4 1379.3 L157.4 1233.3 L175.3 1117.3 L193.3 1223.8 L211.2 1192.1 L247.2 1224.7 L283.1 1263.4 L319.0 1265.5 L354.9 1248.3 L372.9 1375.0 L390.8 1377.2 L408.8 1375.0 L426.8 1372.9 L444.7 1375.0 L462.7 1375.0 L498.6 1379.3 L534.5 1379.3 L570.4 1379.3 L588.4 1379.3 L606.4 1375.0 L624.3 1379.3 L642.3 1352.7 L678.2 1379.3 L714.1 1372.9" fill="none" stroke="#ff0000" stroke-width="1.8" stroke-linejoin="round"/>
<path d="M139.4 1379.3 L157.4 1233.3 L175.3 1135.4 L193.3 1166.7 L211.2 1194.6 L247.2 1209.7 L283.1 1244.0 L319.0 1274.1 L354.9 1317.0 L372.9 1370.7 L390.8 1375.0 L408.8 1361.3 L426.8 1375.0 L444.7 1379.3 L462.7 1379.3 L498.6 1379.3 L534.5 1379.3 L570.4 1379.3 L588.4 1379.3 L606.4 1344.9 L624.3 1270.7 L642.3 1379.3 L678.2 1375.0 L714.1 1379.3" fill="none" stroke="#ff0000" stroke-width="1.8" stroke-linejoin="round"/>
<path d="M139.4 1379.3 L157.4 1259.1 L175.3 1143.1 L193.3 1189.1 L211.2 1211.0 L247.2 1229.0 L283.1 1261.2 L319.0 1295.6 L354.9 1291.3 L372.9 1375.0 L390.8 1379.3 L408.8 1375.0 L426.8 1377.2 L444.7 1368.6 L462.7 1368.6 L498.6 1379.3 L534.5 1379.3 L570.4 1379.3 L588.4 1375.0 L606.4 1372.9 L624.3 1360.0 L642.3 1280.5 L678.2 1377.2 L714.1 1377.2" fill="none" stroke="#ff0000" stroke-width="1.8" stroke-linejoin="round"/>
<path d="M139.4 1379.3 L157.4 1267.6 L175.3 1147.4 L193.3 1215.3 L211.2 1251.3 L247.2 1306.3 L283.1 1344.9 L319.0 1353.5 L354.9 1362.1 L372.9 1366.4 L390.8 1372.9 L408.8 1379.3 L426.8 1379.3 L444.7 1379.3 L462.7 1379.3 L498.6 1379.3 L534.5 1379.3 L570.4 1375.0 L588.4 1379.3 L606.4 1362.1 L624.3 1352.7 L642.3 1372.9 L678.2 1320.0 L714.1 1353.5" fill="none" stroke="#ff0000" stroke-width="1.8" stroke-linejoin="round"/>
<path d="M139.4 1379.3 L157.4 1256.9 L175.3 1130.2 L193.3 1180.5 L211.2 1171.0 L247.2 1207.5 L283.1 1241.9 L319.0 1241.9 L354.9 1259.1 L372.9 1370.7 L390.8 1377.2 L408.8 1377.2 L426.8 1379.3 L444.7 1379.3 L462.7 1379.3 L498.6 1379.3 L534.5 1379.3 L570.4 1372.9 L588.4 1363.0 L606.4 1370.7 L624.3 1299.0 L642.3 1274.9 L678.2 1377.2 L714.1 1379.3" fill="none" stroke="#ff0000" stroke-width="1.8" stroke-linejoin="round"/>
<circle cx="139.4" cy="1379.3" r="5.4" fill="#ff0000"/><circle cx="157.4" cy="1265.5" r="5.4" fill="#ff0000"/><circle cx="175.3" cy="1151.7" r="5.4" fill="#ff0000"/><circle cx="193.3" cy="1241.9" r="5.4" fill="#ff0000"/><circle cx="211.2" cy="1241.0" r="5.4" fill="#ff0000"/><circle cx="247.2" cy="1293.4" r="5.4" fill="#ff0000"/><circle cx="283.1" cy="1353.5" r="5.4" fill="#ff0000"/><circle cx="319.0" cy="1372.9" r="5.4" fill="#ff0000"/><circle cx="354.9" cy="1379.3" r="5.4" fill="#ff0000"/><circle cx="372.9" cy="1379.3" r="5.4" fill="#ff0000"/><circle cx="390.8" cy="1379.3" r="5.4" fill="#ff0000"/><circle cx="408.8" cy="1379.3" r="5.4" fill="#ff0000"/><circle cx="426.8" cy="1379.3" r="5.4" fill="#ff0000"/><circle cx="444.7" cy="1379.3" r="5.4" fill="#ff0000"/><circle cx="462.7" cy="1379.3" r="5.4" fill="#ff0000"/><circle cx="498.6" cy="1379.3" r="5.4" fill="#ff0000"/><circle cx="534.5" cy="1379.3" r="5.4" fill="#ff0000"/><circle cx="570.4" cy="1379.3" r="5.4" fill="#ff0000"/><circle cx="588.4" cy="1379.3" r="5.4" fill="#ff0000"/><circle cx="606.4" cy="1379.3" r="5.4" fill="#ff0000"/><circle cx="624.3" cy="1379.3" r="5.4" fill="#ff0000"/><circle cx="642.3" cy="1302.9" r="5.4" fill="#ff0000"/><circle cx="678.2" cy="1379.3" r="5.4" fill="#ff0000"/><circle cx="714.1" cy="1379.3" r="5.4" fill="#ff0000"/>
<rect x="134.0" y="1373.9" width="10.8" height="10.8" fill="#ff0000"/><rect x="152.0" y="1227.9" width="10.8" height="10.8" fill="#ff0000"/><rect x="169.9" y="1111.9" width="10.8" height="10.8" fill="#ff0000"/><rect x="187.9" y="1218.4" width="10.8" height="10.8" fill="#ff0000"/><rect x="205.8" y="1186.7" width="10.8" height="10.8" fill="#ff0000"/><rect x="241.8" y="1219.3" width="10.8" height="10.8" fill="#ff0000"/><rect x="277.7" y="1258.0" width="10.8" height="10.8" fill="#ff0000"/><rect x="313.6" y="1260.1" width="10.8" height="10.8" fill="#ff0000"/><rect x="349.5" y="1242.9" width="10.8" height="10.8" fill="#ff0000"/><rect x="367.5" y="1369.6" width="10.8" height="10.8" fill="#ff0000"/><rect x="385.4" y="1371.8" width="10.8" height="10.8" fill="#ff0000"/><rect x="403.4" y="1369.6" width="10.8" height="10.8" fill="#ff0000"/><rect x="421.4" y="1367.5" width="10.8" height="10.8" fill="#ff0000"/><rect x="439.3" y="1369.6" width="10.8" height="10.8" fill="#ff0000"/><rect x="457.3" y="1369.6" width="10.8" height="10.8" fill="#ff0000"/><rect x="493.2" y="1373.9" width="10.8" height="10.8" fill="#ff0000"/><rect x="529.1" y="1373.9" width="10.8" height="10.8" fill="#ff0000"/><rect x="565.0" y="1373.9" width="10.8" height="10.8" fill="#ff0000"/><rect x="583.0" y="1373.9" width="10.8" height="10.8" fill="#ff0000"/><rect x="601.0" y="1369.6" width="10.8" height="10.8" fill="#ff0000"/><rect x="618.9" y="1373.9" width="10.8" height="10.8" fill="#ff0000"/><rect x="636.9" y="1347.3" width="10.8" height="10.8" fill="#ff0000"/><rect x="672.8" y="1373.9" width="10.8" height="10.8" fill="#ff0000"/><rect x="708.7" y="1367.5" width="10.8" height="10.8" fill="#ff0000"/>
<path d="M139.4 1373.1L145.4 1384.3H133.4z" fill="#ff0000"/><path d="M157.4 1227.1L163.4 1238.3H151.4z" fill="#ff0000"/><path d="M175.3 1129.2L181.3 1140.4H169.3z" fill="#ff0000"/><path d="M193.3 1160.5L199.3 1171.7H187.3z" fill="#ff0000"/><path d="M211.2 1188.4L217.2 1199.6H205.2z" fill="#ff0000"/><path d="M247.2 1203.5L253.2 1214.7H241.2z" fill="#ff0000"/><path d="M283.1 1237.8L289.1 1249.0H277.1z" fill="#ff0000"/><path d="M319.0 1267.9L325.0 1279.1H313.0z" fill="#ff0000"/><path d="M354.9 1310.8L360.9 1322.0H348.9z" fill="#ff0000"/><path d="M372.9 1364.5L378.9 1375.7H366.9z" fill="#ff0000"/><path d="M390.8 1368.8L396.8 1380.0H384.8z" fill="#ff0000"/><path d="M408.8 1355.1L414.8 1366.3H402.8z" fill="#ff0000"/><path d="M426.8 1368.8L432.8 1380.0H420.8z" fill="#ff0000"/><path d="M444.7 1373.1L450.7 1384.3H438.7z" fill="#ff0000"/><path d="M462.7 1373.1L468.7 1384.3H456.7z" fill="#ff0000"/><path d="M498.6 1373.1L504.6 1384.3H492.6z" fill="#ff0000"/><path d="M534.5 1373.1L540.5 1384.3H528.5z" fill="#ff0000"/><path d="M570.4 1373.1L576.4 1384.3H564.4z" fill="#ff0000"/><path d="M588.4 1373.1L594.4 1384.3H582.4z" fill="#ff0000"/><path d="M606.4 1338.7L612.4 1349.9H600.4z" fill="#ff0000"/><path d="M624.3 1264.5L630.3 1275.7H618.3z" fill="#ff0000"/><path d="M642.3 1373.1L648.3 1384.3H636.3z" fill="#ff0000"/><path d="M678.2 1368.8L684.2 1380.0H672.2z" fill="#ff0000"/><path d="M714.1 1373.1L720.1 1384.3H708.1z" fill="#ff0000"/>
<path d="M139.4 1385.5L145.4 1374.3H133.4z" fill="#ff0000"/><path d="M157.4 1265.3L163.4 1254.1H151.4z" fill="#ff0000"/><path d="M175.3 1149.3L181.3 1138.1H169.3z" fill="#ff0000"/><path d="M193.3 1195.3L199.3 1184.1H187.3z" fill="#ff0000"/><path d="M211.2 1217.2L217.2 1206.0H205.2z" fill="#ff0000"/><path d="M247.2 1235.2L253.2 1224.0H241.2z" fill="#ff0000"/><path d="M283.1 1267.4L289.1 1256.2H277.1z" fill="#ff0000"/><path d="M319.0 1301.8L325.0 1290.6H313.0z" fill="#ff0000"/><path d="M354.9 1297.5L360.9 1286.3H348.9z" fill="#ff0000"/><path d="M372.9 1381.2L378.9 1370.0H366.9z" fill="#ff0000"/><path d="M390.8 1385.5L396.8 1374.3H384.8z" fill="#ff0000"/><path d="M408.8 1381.2L414.8 1370.0H402.8z" fill="#ff0000"/><path d="M426.8 1383.4L432.8 1372.2H420.8z" fill="#ff0000"/><path d="M444.7 1374.8L450.7 1363.6H438.7z" fill="#ff0000"/><path d="M462.7 1374.8L468.7 1363.6H456.7z" fill="#ff0000"/><path d="M498.6 1385.5L504.6 1374.3H492.6z" fill="#ff0000"/><path d="M534.5 1385.5L540.5 1374.3H528.5z" fill="#ff0000"/><path d="M570.4 1385.5L576.4 1374.3H564.4z" fill="#ff0000"/><path d="M588.4 1381.2L594.4 1370.0H582.4z" fill="#ff0000"/><path d="M606.4 1379.1L612.4 1367.9H600.4z" fill="#ff0000"/><path d="M624.3 1366.2L630.3 1355.0H618.3z" fill="#ff0000"/><path d="M642.3 1286.7L648.3 1275.5H636.3z" fill="#ff0000"/><path d="M678.2 1383.4L684.2 1372.2H672.2z" fill="#ff0000"/><path d="M714.1 1383.4L720.1 1372.2H708.1z" fill="#ff0000"/>
<path d="M139.4 1373.5L145.2 1379.3L139.4 1385.1L133.6 1379.3z" fill="#ff0000"/><path d="M157.4 1261.8L163.2 1267.6L157.4 1273.4L151.6 1267.6z" fill="#ff0000"/><path d="M175.3 1141.6L181.1 1147.4L175.3 1153.2L169.5 1147.4z" fill="#ff0000"/><path d="M193.3 1209.5L199.1 1215.3L193.3 1221.1L187.5 1215.3z" fill="#ff0000"/><path d="M211.2 1245.5L217.0 1251.3L211.2 1257.1L205.4 1251.3z" fill="#ff0000"/><path d="M247.2 1300.5L253.0 1306.3L247.2 1312.1L241.4 1306.3z" fill="#ff0000"/><path d="M283.1 1339.1L288.9 1344.9L283.1 1350.7L277.3 1344.9z" fill="#ff0000"/><path d="M319.0 1347.7L324.8 1353.5L319.0 1359.3L313.2 1353.5z" fill="#ff0000"/><path d="M354.9 1356.3L360.7 1362.1L354.9 1367.9L349.1 1362.1z" fill="#ff0000"/><path d="M372.9 1360.6L378.7 1366.4L372.9 1372.2L367.1 1366.4z" fill="#ff0000"/><path d="M390.8 1367.1L396.6 1372.9L390.8 1378.7L385.0 1372.9z" fill="#ff0000"/><path d="M408.8 1373.5L414.6 1379.3L408.8 1385.1L403.0 1379.3z" fill="#ff0000"/><path d="M426.8 1373.5L432.6 1379.3L426.8 1385.1L421.0 1379.3z" fill="#ff0000"/><path d="M444.7 1373.5L450.5 1379.3L444.7 1385.1L438.9 1379.3z" fill="#ff0000"/><path d="M462.7 1373.5L468.5 1379.3L462.7 1385.1L456.9 1379.3z" fill="#ff0000"/><path d="M498.6 1373.5L504.4 1379.3L498.6 1385.1L492.8 1379.3z" fill="#ff0000"/><path d="M534.5 1373.5L540.3 1379.3L534.5 1385.1L528.7 1379.3z" fill="#ff0000"/><path d="M570.4 1369.2L576.2 1375.0L570.4 1380.8L564.6 1375.0z" fill="#ff0000"/><path d="M588.4 1373.5L594.2 1379.3L588.4 1385.1L582.6 1379.3z" fill="#ff0000"/><path d="M606.4 1356.3L612.2 1362.1L606.4 1367.9L600.6 1362.1z" fill="#ff0000"/><path d="M624.3 1346.9L630.1 1352.7L624.3 1358.5L618.5 1352.7z" fill="#ff0000"/><path d="M642.3 1367.1L648.1 1372.9L642.3 1378.7L636.5 1372.9z" fill="#ff0000"/><path d="M678.2 1314.2L684.0 1320.0L678.2 1325.8L672.4 1320.0z" fill="#ff0000"/><path d="M714.1 1347.7L719.9 1353.5L714.1 1359.3L708.3 1353.5z" fill="#ff0000"/>
<polygon points="139.4,1373.1 140.9,1377.2 145.3,1377.4 141.9,1380.1 143.0,1384.3 139.4,1381.9 135.8,1384.3 136.9,1380.1 133.5,1377.4 137.9,1377.2" fill="#ff0000"/><polygon points="157.4,1250.7 158.9,1254.8 163.3,1255.0 159.8,1257.7 161.0,1261.9 157.4,1259.5 153.7,1261.9 154.9,1257.7 151.5,1255.0 155.8,1254.8" fill="#ff0000"/><polygon points="175.3,1124.0 176.8,1128.1 181.2,1128.3 177.8,1131.0 179.0,1135.2 175.3,1132.8 171.7,1135.2 172.8,1131.0 169.4,1128.3 173.8,1128.1" fill="#ff0000"/><polygon points="193.3,1174.3 194.8,1178.4 199.2,1178.6 195.8,1181.3 196.9,1185.5 193.3,1183.1 189.6,1185.5 190.8,1181.3 187.4,1178.6 191.8,1178.4" fill="#ff0000"/><polygon points="211.2,1164.8 212.8,1168.9 217.1,1169.1 213.7,1171.8 214.9,1176.0 211.2,1173.6 207.6,1176.0 208.8,1171.8 205.3,1169.1 209.7,1168.9" fill="#ff0000"/><polygon points="247.2,1201.3 248.7,1205.4 253.1,1205.6 249.6,1208.3 250.8,1212.5 247.2,1210.1 243.5,1212.5 244.7,1208.3 241.3,1205.6 245.6,1205.4" fill="#ff0000"/><polygon points="283.1,1235.7 284.6,1239.8 289.0,1240.0 285.6,1242.7 286.7,1246.9 283.1,1244.5 279.4,1246.9 280.6,1242.7 277.2,1240.0 281.6,1239.8" fill="#ff0000"/><polygon points="319.0,1235.7 320.5,1239.8 324.9,1240.0 321.5,1242.7 322.6,1246.9 319.0,1244.5 315.4,1246.9 316.5,1242.7 313.1,1240.0 317.5,1239.8" fill="#ff0000"/><polygon points="354.9,1252.9 356.4,1257.0 360.8,1257.1 357.4,1259.9 358.6,1264.1 354.9,1261.7 351.3,1264.1 352.4,1259.9 349.0,1257.1 353.4,1257.0" fill="#ff0000"/><polygon points="372.9,1364.5 374.4,1368.6 378.8,1368.8 375.4,1371.5 376.5,1375.7 372.9,1373.3 369.2,1375.7 370.4,1371.5 367.0,1368.8 371.4,1368.6" fill="#ff0000"/><polygon points="390.8,1371.0 392.4,1375.0 396.7,1375.2 393.3,1378.0 394.5,1382.2 390.8,1379.8 387.2,1382.2 388.4,1378.0 384.9,1375.2 389.3,1375.0" fill="#ff0000"/><polygon points="408.8,1371.0 410.3,1375.0 414.7,1375.2 411.3,1378.0 412.4,1382.2 408.8,1379.8 405.2,1382.2 406.3,1378.0 402.9,1375.2 407.3,1375.0" fill="#ff0000"/><polygon points="426.8,1373.1 428.3,1377.2 432.7,1377.4 429.2,1380.1 430.4,1384.3 426.8,1381.9 423.1,1384.3 424.3,1380.1 420.9,1377.4 425.2,1377.2" fill="#ff0000"/><polygon points="444.7,1373.1 446.2,1377.2 450.6,1377.4 447.2,1380.1 448.4,1384.3 444.7,1381.9 441.1,1384.3 442.2,1380.1 438.8,1377.4 443.2,1377.2" fill="#ff0000"/><polygon points="462.7,1373.1 464.2,1377.2 468.6,1377.4 465.2,1380.1 466.3,1384.3 462.7,1381.9 459.0,1384.3 460.2,1380.1 456.8,1377.4 461.2,1377.2" fill="#ff0000"/><polygon points="498.6,1373.1 500.1,1377.2 504.5,1377.4 501.1,1380.1 502.2,1384.3 498.6,1381.9 495.0,1384.3 496.1,1380.1 492.7,1377.4 497.1,1377.2" fill="#ff0000"/><polygon points="534.5,1373.1 536.0,1377.2 540.4,1377.4 537.0,1380.1 538.2,1384.3 534.5,1381.9 530.9,1384.3 532.0,1380.1 528.6,1377.4 533.0,1377.2" fill="#ff0000"/><polygon points="570.4,1366.7 572.0,1370.8 576.3,1370.9 572.9,1373.7 574.1,1377.9 570.4,1375.5 566.8,1377.9 568.0,1373.7 564.5,1370.9 568.9,1370.8" fill="#ff0000"/><polygon points="588.4,1356.8 589.9,1360.9 594.3,1361.1 590.9,1363.8 592.0,1368.0 588.4,1365.6 584.8,1368.0 585.9,1363.8 582.5,1361.1 586.9,1360.9" fill="#ff0000"/><polygon points="606.4,1364.5 607.9,1368.6 612.3,1368.8 608.8,1371.5 610.0,1375.7 606.4,1373.3 602.7,1375.7 603.9,1371.5 600.5,1368.8 604.8,1368.6" fill="#ff0000"/><polygon points="624.3,1292.8 625.8,1296.9 630.2,1297.1 626.8,1299.8 628.0,1304.0 624.3,1301.6 620.7,1304.0 621.8,1299.8 618.4,1297.1 622.8,1296.9" fill="#ff0000"/><polygon points="642.3,1268.7 643.8,1272.8 648.2,1273.0 644.8,1275.8 645.9,1280.0 642.3,1277.5 638.6,1280.0 639.8,1275.8 636.4,1273.0 640.8,1272.8" fill="#ff0000"/><polygon points="678.2,1371.0 679.7,1375.0 684.1,1375.2 680.7,1378.0 681.8,1382.2 678.2,1379.8 674.6,1382.2 675.7,1378.0 672.3,1375.2 676.7,1375.0" fill="#ff0000"/><polygon points="714.1,1373.1 715.6,1377.2 720.0,1377.4 716.6,1380.1 717.8,1384.3 714.1,1381.9 710.5,1384.3 711.6,1380.1 708.2,1377.4 712.6,1377.2" fill="#ff0000"/>
<line x1="765.6" y1="1094.9" x2="791.6" y2="1094.9" stroke="#ff0000" stroke-width="1.8"/>
<circle cx="778.6" cy="1094.9" r="5.4" fill="#ff0000"/>
<text x="804.5" y="1100.2" font-size="18.3" font-weight="400" fill="#000" textLength="51.0" lengthAdjust="spacingAndGlyphs" stroke="#000" stroke-width="0.3">42870</text>
<line x1="765.6" y1="1125.2" x2="791.6" y2="1125.2" stroke="#ff0000" stroke-width="1.8"/>
<rect x="773.2" y="1119.8" width="10.8" height="10.8" fill="#ff0000"/>
<text x="804.5" y="1130.5" font-size="18.3" font-weight="400" fill="#000" textLength="51.0" lengthAdjust="spacingAndGlyphs" stroke="#000" stroke-width="0.3">41919</text>
<line x1="765.6" y1="1155.5" x2="791.6" y2="1155.5" stroke="#ff0000" stroke-width="1.8"/>
<path d="M778.6 1149.3L784.6 1160.5H772.6z" fill="#ff0000"/>
<text x="804.5" y="1160.8" font-size="18.3" font-weight="400" fill="#000" textLength="51.0" lengthAdjust="spacingAndGlyphs" stroke="#000" stroke-width="0.3">42814</text>
<line x1="765.6" y1="1185.8" x2="791.6" y2="1185.8" stroke="#ff0000" stroke-width="1.8"/>
<path d="M778.6 1192.0L784.6 1180.8H772.6z" fill="#ff0000"/>
<text x="804.5" y="1191.1" font-size="18.3" font-weight="400" fill="#000" textLength="51.0" lengthAdjust="spacingAndGlyphs" stroke="#000" stroke-width="0.3">43633</text>
<line x1="765.6" y1="1216.1" x2="791.6" y2="1216.1" stroke="#ff0000" stroke-width="1.8"/>
<path d="M778.6 1210.3L784.4 1216.1L778.6 1221.9L772.8 1216.1z" fill="#ff0000"/>
<text x="804.5" y="1221.4" font-size="18.3" font-weight="400" fill="#000" textLength="51.0" lengthAdjust="spacingAndGlyphs" stroke="#000" stroke-width="0.3">41522</text>
<line x1="765.6" y1="1246.4" x2="791.6" y2="1246.4" stroke="#ff0000" stroke-width="1.8"/>
<polygon points="778.6,1240.2 780.1,1244.3 784.5,1244.5 781.1,1247.2 782.2,1251.4 778.6,1249.0 775.0,1251.4 776.1,1247.2 772.7,1244.5 777.1,1244.3" fill="#ff0000"/>
<text x="804.5" y="1251.7" font-size="18.3" font-weight="400" fill="#000" textLength="51.0" lengthAdjust="spacingAndGlyphs" stroke="#000" stroke-width="0.3">41672</text>
<text transform="translate(66.4 1020.7) scale(0.935 1)" font-size="50" font-weight="700">c</text>
<text transform="translate(1010.6 862.2) scale(1.07 1)" font-size="46.5" font-weight="700">d</text>
<text x="1190.5" y="856" font-size="26" font-weight="400" text-anchor="middle" textLength="215.4" lengthAdjust="spacing" stroke="#000" stroke-width="0.6">Plasma Viral Load</text>
<text x="1190.3" y="885.6" font-size="26" font-weight="400" text-anchor="middle" textLength="60.5" lengthAdjust="spacing" stroke="#000" stroke-width="0.6">wk12</text>
<path d="M1104.4 919.1V1186.5M1094.4 1185.5H1279.5" fill="none" stroke="#000" stroke-width="2"/>
<path d="M1093.9 1185.5H1104.4M1093.9 1132.4H1104.4M1093.9 1079.3H1104.4M1093.9 1026.3H1104.4M1093.9 973.2H1104.4M1093.9 920.1H1104.4M1153.9 1185.5V1199.0M1227.3 1185.5V1199.0" fill="none" stroke="#000" stroke-width="2"/>
<text x="1089.6" y="1191.6" font-size="17" font-weight="700" fill="#000" text-anchor="end">0</text>
<text x="1089.6" y="1138.5" font-size="17" font-weight="700" fill="#000" text-anchor="end">1</text>
<text x="1089.6" y="1085.4" font-size="17" font-weight="700" fill="#000" text-anchor="end">2</text>
<text x="1089.6" y="1032.4" font-size="17" font-weight="700" fill="#000" text-anchor="end">3</text>
<text x="1089.6" y="979.3" font-size="17" font-weight="700" fill="#000" text-anchor="end">4</text>
<text x="1089.6" y="926.2" font-size="17" font-weight="700" fill="#000" text-anchor="end">5</text>
<text transform="translate(1063 1197.5) rotate(-90)" font-size="14.2" font-weight="700" textLength="290" lengthAdjust="spacing">Log<tspan font-size="8.5" dy="3">10</tspan><tspan dy="-3"> Plasma Viral RNA Copies/mL</tspan></text>
<circle cx="1154" cy="950.9" r="6.1" fill="#0000cc"/>
<circle cx="1154" cy="1011.5" r="6.1" fill="#0000cc"/>
<circle cx="1154" cy="1048.9" r="6.1" fill="#0000cc"/>
<circle cx="1154" cy="1067.2" r="6.1" fill="#0000cc"/>
<circle cx="1141.4" cy="1101.7" r="6.1" fill="#0000cc"/>
<circle cx="1166.2" cy="1101.7" r="6.1" fill="#0000cc"/>
<line x1="1128.9" y1="1056.4" x2="1179.8" y2="1056.4" stroke="#3a3aff" stroke-width="2.3"/>
<rect x="1234.4" y="966.1" width="12.4" height="12.4" fill="#ff0000"/>
<rect x="1209.8" y="979.5" width="12.4" height="12.4" fill="#ff0000"/>
<rect x="1221.1" y="1018.9" width="12.4" height="12.4" fill="#ff0000"/>
<rect x="1221.1" y="1051.3" width="12.4" height="12.4" fill="#ff0000"/>
<rect x="1221.1" y="1106.3" width="12.4" height="12.4" fill="#ff0000"/>
<rect x="1221.1" y="1127.2" width="12.4" height="12.4" fill="#ff0000"/>
<line x1="1202.9" y1="1035.9" x2="1253.6" y2="1035.9" stroke="#ff6464" stroke-width="2.3"/>
<text x="1161.0" y="1214.1" font-size="19.5" font-weight="400" fill="#000" text-anchor="end" textLength="77.7" lengthAdjust="spacingAndGlyphs" transform="rotate(-45 1161.0 1214.1)" stroke="#000" stroke-width="0.6">Placebo</text>
<text x="1235.3" y="1213.3" font-size="19.5" font-weight="400" fill="#000" text-anchor="end" textLength="176.2" lengthAdjust="spacingAndGlyphs" transform="rotate(-45 1235.3 1213.3)" stroke="#000" stroke-width="0.6">HIV Env Clade B/C</text>
</svg>
</body>
</html>
